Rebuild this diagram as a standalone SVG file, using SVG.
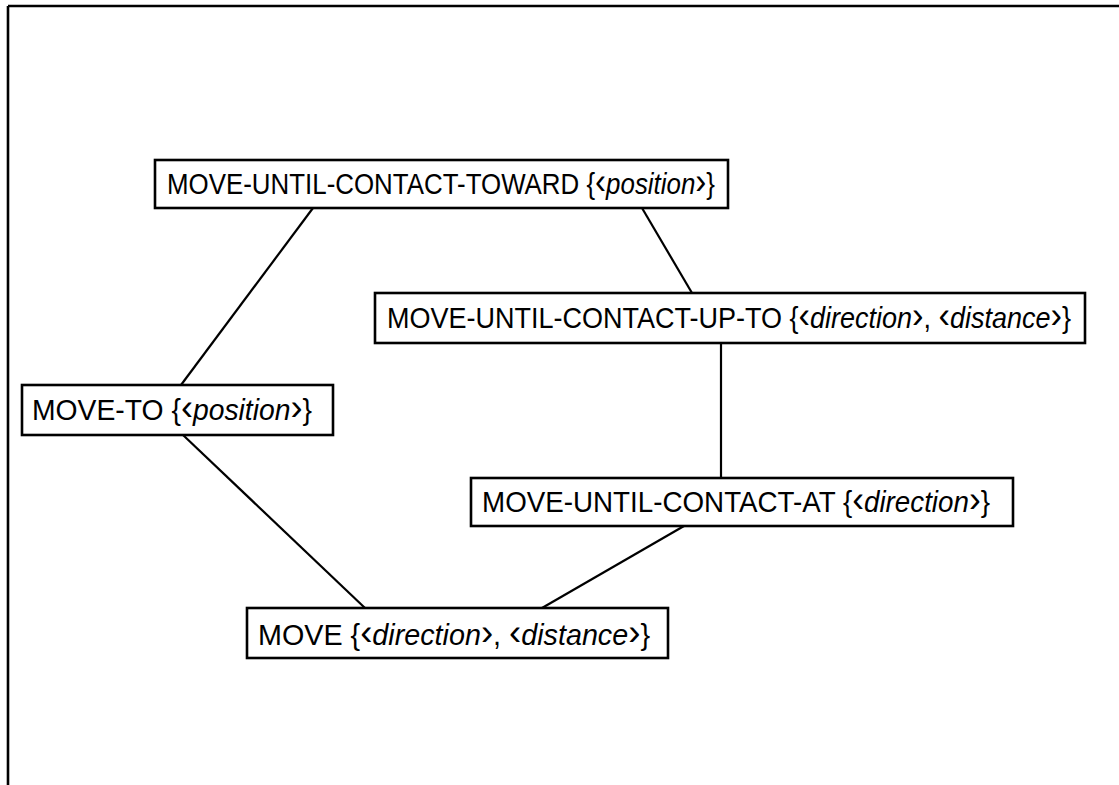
<svg xmlns="http://www.w3.org/2000/svg" width="1119" height="785" viewBox="0 0 1119 785">
<style>
.box{fill:#fff;stroke:#000;stroke-width:2.6}
.t{font-family:"Liberation Sans",Arial,Helvetica,sans-serif;font-size:29px;fill:#000}
.i{font-style:italic}
.b{font-size:37px}
.c{stroke:#000;stroke-width:2.2;fill:none}
.f{stroke:#000;stroke-width:2.6;fill:none}
</style>
<rect width="1119" height="785" fill="#fff"/>
<g id="frame"><path class="f" d="M8 6 H1119 M8 6 V785"/></g>
<g id="connectors">
<line class="c" x1="313" y1="208" x2="181" y2="385"/>
<line class="c" x1="642" y1="208" x2="692" y2="293"/>
<line class="c" x1="721" y1="343" x2="721" y2="478"/>
<line class="c" x1="183" y1="435" x2="365" y2="608"/>
<line class="c" x1="684" y1="526" x2="542" y2="608"/>
</g>
<g id="node-toward">
<rect class="box" x="155" y="160" width="573" height="48"/>
<text class="t" x="167" y="194" textLength="548" lengthAdjust="spacingAndGlyphs">MOVE-UNTIL-CONTACT-TOWARD {<tspan class="b">‹</tspan><tspan class="i">position</tspan><tspan class="b">›</tspan>}</text>
</g>
<g id="node-upto">
<rect class="box" x="375" y="293" width="710" height="50"/>
<text class="t" x="387" y="328" textLength="684" lengthAdjust="spacingAndGlyphs">MOVE-UNTIL-CONTACT-UP-TO {<tspan class="b">‹</tspan><tspan class="i">direction</tspan><tspan class="b">›</tspan>, <tspan class="b">‹</tspan><tspan class="i">distance</tspan><tspan class="b">›</tspan>}</text>
</g>
<g id="node-moveto">
<rect class="box" x="22" y="385" width="311" height="50"/>
<text class="t" x="32" y="420" textLength="280" lengthAdjust="spacingAndGlyphs">MOVE-TO {<tspan class="b">‹</tspan><tspan class="i">position</tspan><tspan class="b">›</tspan>}</text>
</g>
<g id="node-at">
<rect class="box" x="471" y="478" width="542" height="48"/>
<text class="t" x="482" y="512" textLength="508" lengthAdjust="spacingAndGlyphs">MOVE-UNTIL-CONTACT-AT {<tspan class="b">‹</tspan><tspan class="i">direction</tspan><tspan class="b">›</tspan>}</text>
</g>
<g id="node-move">
<rect class="box" x="247" y="608" width="421" height="50"/>
<text class="t" x="258" y="645" textLength="392" lengthAdjust="spacingAndGlyphs">MOVE {<tspan class="b">‹</tspan><tspan class="i">direction</tspan><tspan class="b">›</tspan>, <tspan class="b">‹</tspan><tspan class="i">distance</tspan><tspan class="b">›</tspan>}</text>
</g>
</svg>
